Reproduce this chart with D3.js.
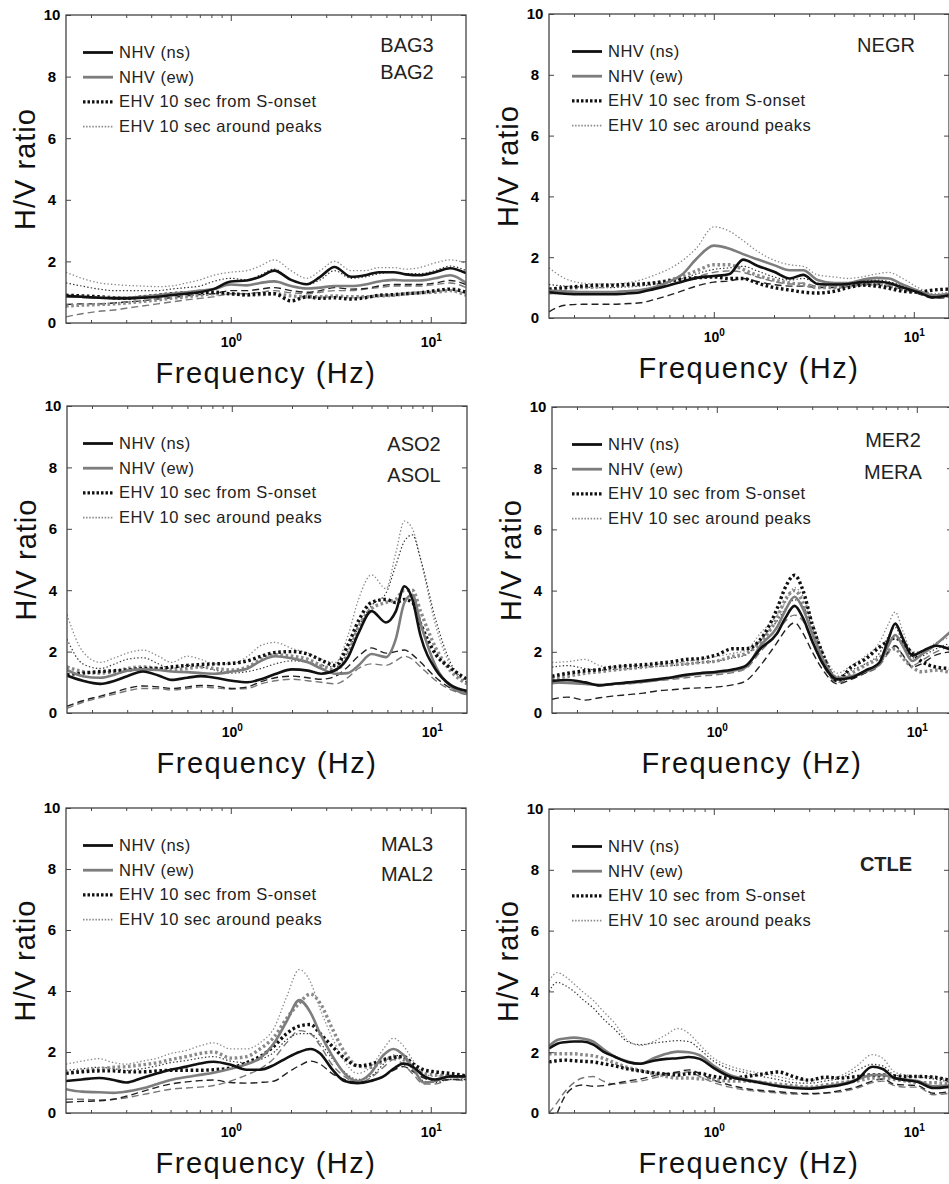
<!DOCTYPE html>
<html>
<head>
<meta charset="utf-8">
<script src="https://cdn.jsdelivr.net/npm/d3@7"></script>
<style>
  body { margin: 0; background: #fff; }
  svg { display: block; font-family: "Liberation Sans", Arial, Helvetica, sans-serif; }
</style>
</head>
<body>
<svg width="949" height="1184"></svg>
<script>
// ---- data ----
// legend / tick text
const legendLabels = ["NHV (ns)", "NHV (ew)", "EHV 10 sec from S-onset", "EHV 10 sec around peaks"];
const yTicks = [0, 2, 4, 6, 8, 10];
const xMajor = [1, 10];
const xMajorExp = ["0", "1"];
const xMinor = [0.2, 0.3, 0.4, 0.5, 0.6, 0.7, 0.8, 0.9, 2, 3, 4, 5, 6, 7, 8, 9];

// BAG3 / BAG2
const bagFreq = [0.15,0.18,0.22,0.26,0.3,0.36,0.43,0.5,0.6,0.7,0.82,1.0,1.2,1.4,1.65,2.0,2.4,2.8,3.3,4.0,4.7,5.5,6.5,7.5,8.8,10.5,12.5,15];
const bagNhvNs = [0.88,0.85,0.82,0.8,0.8,0.82,0.85,0.9,0.95,1.0,1.1,1.35,1.38,1.5,1.7,1.4,1.26,1.5,1.82,1.5,1.55,1.65,1.65,1.58,1.55,1.65,1.78,1.62];
const bagNhvEw = [0.85,0.85,0.82,0.82,0.82,0.85,0.9,0.95,1.0,1.05,1.1,1.25,1.22,1.3,1.35,1.2,1.12,1.15,1.2,1.2,1.25,1.35,1.4,1.38,1.38,1.45,1.55,1.3];
const bagOnsetB = [0.9,0.88,0.85,0.82,0.8,0.85,0.9,0.95,0.98,1.0,1.0,0.95,0.92,0.95,0.95,0.72,0.85,0.8,0.82,0.78,0.82,0.9,0.92,0.95,0.98,1.05,1.1,1.0];
const bagOnsetG = [0.55,0.58,0.6,0.62,0.65,0.7,0.75,0.8,0.85,0.9,0.95,0.95,0.9,0.92,0.95,0.88,0.85,0.85,0.88,0.85,0.85,0.88,0.9,0.95,0.98,1.0,1.05,0.9];
const bagPeaksB = [1.3,1.2,1.1,1.05,1.05,1.05,1.05,1.1,1.15,1.2,1.35,1.45,1.4,1.55,1.75,1.4,1.25,1.4,1.7,1.45,1.5,1.6,1.65,1.6,1.6,1.7,1.85,1.7];
const bagPeaksG = [1.65,1.45,1.3,1.25,1.22,1.2,1.18,1.2,1.3,1.4,1.55,1.65,1.7,1.85,2.05,1.7,1.45,1.7,2.0,1.7,1.7,1.8,1.8,1.75,1.8,1.95,2.05,1.95];
const bagDashB = [0.6,0.62,0.62,0.65,0.68,0.72,0.78,0.82,0.88,0.92,0.95,1.05,1.05,1.1,1.15,1.05,1.0,1.05,1.15,1.1,1.12,1.2,1.25,1.25,1.25,1.3,1.38,1.25];
const bagDashG = [0.2,0.3,0.38,0.42,0.48,0.55,0.62,0.68,0.75,0.8,0.85,0.95,0.95,1.0,1.05,0.98,0.95,1.0,1.05,1.05,1.1,1.15,1.2,1.2,1.2,1.25,1.3,1.15];

// NEGR
const negFreq = [0.15,0.18,0.22,0.26,0.3,0.36,0.43,0.5,0.6,0.7,0.82,1.0,1.2,1.4,1.65,2.0,2.4,2.8,3.3,4.0,4.7,5.5,6.5,7.5,8.8,10.5,12.5,15];
const negNhvNs = [0.85,0.8,0.78,0.78,0.78,0.8,0.85,0.95,1.08,1.2,1.32,1.38,1.45,1.92,1.72,1.52,1.3,1.42,1.12,1.1,1.12,1.18,1.2,1.15,1.0,0.85,0.68,0.75];
const negNhvEw = [0.9,0.88,0.85,0.85,0.85,0.88,0.92,1.0,1.2,1.45,1.95,2.38,2.28,2.1,1.93,1.74,1.57,1.57,1.25,1.15,1.15,1.25,1.32,1.3,1.1,0.9,0.75,0.8];
const negOnsetB = [0.95,1.0,1.05,1.08,1.08,1.1,1.12,1.15,1.22,1.28,1.32,1.35,1.3,1.3,1.15,1.0,0.92,0.85,0.82,0.88,1.0,1.08,1.05,0.98,0.88,0.85,0.92,0.95];
const negOnsetG = [0.95,0.98,1.0,1.02,1.05,1.08,1.1,1.15,1.25,1.38,1.55,1.75,1.75,1.6,1.4,1.25,1.15,1.1,1.0,1.0,1.05,1.1,1.12,1.05,0.95,0.85,0.7,0.72];
const negPeaksB = [1.1,1.05,1.02,1.0,1.0,1.02,1.05,1.1,1.2,1.3,1.45,1.6,1.65,1.7,1.55,1.35,1.25,1.3,1.15,1.1,1.12,1.2,1.25,1.2,1.05,0.85,0.7,0.75];
const negPeaksG = [1.65,1.3,1.15,1.12,1.12,1.15,1.25,1.4,1.62,1.9,2.3,3.0,2.85,2.55,2.2,1.9,1.75,1.7,1.42,1.35,1.3,1.35,1.45,1.5,1.3,1.0,0.8,0.85];
const negDashB = [0.2,0.42,0.45,0.45,0.45,0.47,0.5,0.6,0.75,0.9,1.05,1.18,1.22,1.3,1.2,1.1,1.05,1.05,1.0,1.0,1.05,1.1,1.12,1.05,0.95,0.8,0.65,0.68];
const negDashG = [0.8,0.82,0.85,0.85,0.85,0.88,0.92,1.0,1.1,1.2,1.35,1.5,1.55,1.5,1.35,1.2,1.12,1.15,1.05,1.05,1.08,1.12,1.15,1.1,1.0,0.85,0.7,0.72];

// ASO2 / ASOL
const asoFreq = [0.15,0.18,0.22,0.26,0.3,0.36,0.43,0.5,0.6,0.7,0.82,1.0,1.2,1.4,1.65,2.0,2.4,2.8,3.3,3.8,4.3,5.0,5.9,6.6,7.3,8.0,8.8,10.5,12.5,15];
const asoNhvNs = [1.22,1.05,0.95,1.05,1.2,1.35,1.22,1.08,1.15,1.2,1.15,1.05,1.0,1.1,1.27,1.42,1.38,1.28,1.4,1.8,2.6,3.32,2.95,3.3,4.13,3.7,2.5,1.4,0.9,0.72];
const asoNhvEw = [1.4,1.2,1.15,1.25,1.38,1.42,1.4,1.35,1.33,1.3,1.28,1.35,1.45,1.7,1.85,1.78,1.65,1.45,1.28,1.3,1.55,1.92,1.82,2.4,3.6,3.85,2.9,1.5,0.85,0.62];
const asoOnsetB = [1.25,1.3,1.35,1.38,1.4,1.45,1.45,1.5,1.55,1.58,1.6,1.62,1.7,1.85,1.97,2.0,1.92,1.72,1.55,2.2,3.0,3.6,3.7,3.6,3.7,3.6,2.9,1.9,1.45,1.1];
const asoOnsetG = [1.5,1.35,1.3,1.35,1.45,1.5,1.45,1.4,1.45,1.5,1.45,1.4,1.5,1.75,1.9,1.85,1.75,1.55,1.4,1.9,2.8,3.4,3.6,3.7,4.0,4.0,3.3,2.1,1.35,0.95];
const asoPeaksB = [2.4,1.6,1.45,1.6,1.75,1.8,1.6,1.45,1.55,1.5,1.4,1.3,1.35,1.45,1.6,1.7,1.65,1.55,1.5,2.0,2.8,3.5,3.9,4.8,5.6,5.8,5.0,3.0,1.6,1.0];
const asoPeaksG = [3.2,2.0,1.65,1.8,1.95,2.05,1.85,1.65,1.85,1.75,1.6,1.6,1.85,2.2,2.3,2.1,1.95,1.75,1.65,2.5,3.7,4.5,4.05,5.2,6.25,6.0,5.0,2.8,1.5,1.0];
const asoDashB = [0.22,0.4,0.55,0.68,0.8,0.88,0.85,0.8,0.85,0.9,0.88,0.8,0.85,1.02,1.15,1.2,1.15,1.1,1.2,1.5,1.85,2.12,1.95,2.0,2.05,1.9,1.65,1.15,0.8,0.65];
const asoDashG = [0.15,0.35,0.5,0.62,0.72,0.8,0.8,0.75,0.8,0.85,0.82,0.78,0.8,0.95,1.05,1.1,1.05,1.0,0.95,1.15,1.45,1.6,1.55,1.7,1.85,1.75,1.5,1.05,0.75,0.6];

// MER2 / MERA
const merFreq = [0.15,0.18,0.22,0.26,0.3,0.36,0.43,0.5,0.6,0.7,0.82,1.0,1.2,1.4,1.65,2.0,2.2,2.45,2.7,3.0,3.4,4.0,4.7,5.5,6.5,7.2,7.8,8.5,9.5,10.5,12.5,15];
const merNhvNs = [1.05,1.08,1.0,0.9,0.95,1.0,1.05,1.1,1.17,1.25,1.3,1.35,1.42,1.55,2.1,2.6,3.1,3.5,3.1,2.35,1.6,1.1,1.15,1.38,1.65,2.4,2.92,2.45,1.87,2.0,2.2,2.05];
const merNhvEw = [1.0,0.98,0.95,0.92,0.95,0.98,1.02,1.08,1.15,1.22,1.28,1.32,1.38,1.5,2.2,2.8,3.35,3.8,3.4,2.6,1.75,1.15,1.2,1.35,1.6,2.2,2.55,2.2,1.7,1.9,2.25,2.7];
const merOnsetB = [1.2,1.3,1.38,1.42,1.5,1.55,1.58,1.62,1.68,1.75,1.78,1.9,2.1,2.1,2.4,3.4,4.1,4.5,4.0,2.9,1.9,1.05,1.5,1.75,2.15,2.35,2.45,2.3,1.95,1.7,1.5,1.45];
const merOnsetG = [1.1,1.2,1.3,1.35,1.4,1.45,1.5,1.55,1.58,1.6,1.65,1.7,1.85,1.95,2.3,3.1,3.7,4.0,3.6,2.7,1.7,1.1,1.3,1.55,1.8,2.05,2.1,1.8,1.5,1.35,1.4,1.3];
const merPeaksB = [1.5,1.55,1.45,1.4,1.42,1.45,1.5,1.52,1.55,1.6,1.65,1.7,1.8,1.9,2.4,3.0,3.4,3.7,3.5,2.8,1.9,1.2,1.4,1.6,1.95,2.5,2.8,2.3,1.8,1.85,2.1,2.3];
const merPeaksG = [1.65,1.68,1.75,1.55,1.5,1.55,1.55,1.6,1.62,1.68,1.75,1.85,1.95,2.05,2.6,3.2,3.6,4.1,3.8,3.0,2.0,1.3,1.55,1.85,2.3,2.9,3.3,2.7,2.0,2.0,2.3,2.5];
const merDashB = [0.45,0.52,0.42,0.5,0.55,0.6,0.65,0.72,0.76,0.8,0.82,0.85,0.92,1.05,1.55,2.3,2.7,2.95,2.6,2.0,1.4,0.95,1.1,1.3,1.6,2.0,2.2,1.9,1.5,1.6,1.9,2.0];
const merDashG = [0.95,1.0,0.95,0.9,0.92,0.95,1.0,1.05,1.1,1.15,1.2,1.25,1.32,1.45,2.0,2.6,3.0,3.2,3.0,2.3,1.55,1.0,1.15,1.3,1.55,1.95,2.2,1.9,1.55,1.7,2.0,2.2];

// MAL3 / MAL2
const malFreq = [0.15,0.18,0.22,0.26,0.3,0.36,0.43,0.5,0.6,0.7,0.82,1.0,1.2,1.4,1.65,1.9,2.2,2.5,2.8,3.2,3.7,4.3,5.0,5.8,6.5,7.3,8.2,9.2,10.5,12.5,15];
const malNhvNs = [1.05,1.1,1.15,1.08,1.0,1.15,1.3,1.42,1.52,1.62,1.68,1.58,1.42,1.42,1.58,1.8,2.0,2.1,1.95,1.45,1.05,0.98,1.05,1.2,1.45,1.62,1.5,1.22,1.1,1.2,1.2];
const malNhvEw = [0.78,0.7,0.68,0.66,0.7,0.8,0.95,1.08,1.18,1.25,1.32,1.45,1.6,1.8,2.3,3.0,3.7,3.3,2.6,1.9,1.3,1.05,1.3,1.9,2.1,1.9,1.45,1.0,1.05,1.2,1.2];
const malOnsetB = [1.3,1.35,1.38,1.38,1.35,1.35,1.38,1.4,1.4,1.4,1.42,1.48,1.65,1.85,2.2,2.6,2.85,2.9,2.6,2.2,1.8,1.55,1.6,1.75,1.82,1.85,1.6,1.42,1.35,1.3,1.22];
const malOnsetG = [1.3,1.38,1.45,1.5,1.52,1.58,1.65,1.75,1.85,1.95,2.0,1.8,1.85,2.1,2.5,3.1,3.6,3.9,3.6,2.8,2.0,1.55,1.5,1.7,1.85,1.75,1.5,1.3,1.25,1.2,1.15];
const malPeaksB = [1.4,1.45,1.5,1.45,1.4,1.45,1.55,1.65,1.72,1.8,1.85,1.7,1.65,1.75,2.0,2.4,2.6,2.6,2.3,1.8,1.35,1.1,1.2,1.6,1.9,1.8,1.4,1.05,1.0,1.1,1.1];
const malPeaksG = [1.6,1.7,1.78,1.65,1.6,1.7,1.8,1.95,2.05,2.2,2.3,2.1,2.1,2.3,2.8,3.8,4.7,4.3,3.4,2.5,1.7,1.3,1.5,2.1,2.45,2.2,1.7,1.3,1.2,1.25,1.2];
const malDashB = [0.35,0.38,0.4,0.45,0.55,0.7,0.85,0.95,1.02,1.06,1.08,1.0,0.98,1.0,1.05,1.3,1.55,1.7,1.6,1.3,1.1,1.02,1.05,1.2,1.4,1.52,1.35,1.15,1.05,1.1,1.1];
const malDashG = [0.45,0.45,0.43,0.45,0.5,0.6,0.7,0.78,0.82,0.85,0.9,1.05,1.25,1.45,1.8,2.3,2.7,2.6,2.2,1.6,1.2,1.0,1.15,1.5,1.75,1.6,1.25,0.95,0.95,1.1,1.05];

// CTLE
const ctlFreq = [0.15,0.165,0.18,0.2,0.22,0.25,0.28,0.32,0.37,0.43,0.5,0.58,0.66,0.75,0.85,1.0,1.2,1.45,1.75,2.1,2.5,3.0,3.6,4.3,5.2,6.2,7.0,8.0,9.2,10.5,12.5,15];
const ctlNhvNs = [2.12,2.28,2.33,2.35,2.35,2.25,2.02,1.85,1.68,1.62,1.72,1.78,1.8,1.84,1.78,1.48,1.2,1.08,0.98,0.88,0.82,0.8,0.85,0.92,1.1,1.52,1.45,1.15,1.08,1.02,0.82,0.86];
const ctlNhvEw = [2.2,2.4,2.45,2.48,2.45,2.35,2.1,1.85,1.7,1.62,1.8,1.95,2.02,2.0,1.9,1.55,1.25,1.1,1.0,0.9,0.85,0.82,0.88,0.95,1.1,1.25,1.25,1.15,1.1,1.05,0.88,0.9];
const ctlOnsetB = [1.68,1.72,1.74,1.72,1.7,1.68,1.62,1.55,1.45,1.38,1.32,1.28,1.25,1.3,1.3,1.2,1.15,1.2,1.28,1.35,1.2,1.08,1.18,1.15,1.2,1.25,1.25,1.22,1.2,1.2,1.18,1.08];
const ctlOnsetG = [1.95,1.95,1.95,1.95,1.92,1.88,1.8,1.65,1.5,1.4,1.3,1.2,1.15,1.15,1.12,1.1,1.05,1.05,1.0,0.95,0.9,0.85,0.92,1.0,1.05,1.15,1.15,1.1,1.05,1.0,1.0,0.95];
const ctlPeaksB = [4.0,4.3,4.2,4.0,3.75,3.45,3.1,2.75,2.35,2.25,2.3,2.35,2.38,2.35,2.1,1.7,1.45,1.32,1.2,1.1,1.0,0.98,1.05,1.15,1.4,1.6,1.55,1.25,1.2,1.18,1.12,1.02];
const ctlPeaksG = [4.35,4.62,4.5,4.25,4.0,3.7,3.35,2.95,2.4,2.22,2.35,2.58,2.78,2.62,2.25,1.8,1.55,1.4,1.3,1.2,1.1,1.08,1.12,1.22,1.55,1.92,1.8,1.35,1.25,1.22,1.18,1.08];
const ctlDashB = [null,0.0,0.55,0.85,0.92,0.88,0.9,0.97,1.05,1.12,1.22,1.3,1.35,1.42,1.3,1.08,0.92,0.8,0.74,0.7,0.66,0.64,0.66,0.74,0.86,1.05,1.12,0.95,0.92,0.9,0.65,0.7];
const ctlDashG = [0.0,0.35,0.7,1.0,1.15,1.2,1.05,0.95,1.0,1.05,1.15,1.25,1.32,1.35,1.2,1.0,0.85,0.75,0.7,0.66,0.62,0.62,0.65,0.7,0.82,1.0,1.05,0.9,0.85,0.85,0.6,0.65];

// ---- panels ----
const panels = [
  { freq: bagFreq, tags: ["BAG3", "BAG2"], bold: false,
    s: [bagNhvNs, bagNhvEw, bagOnsetB, bagOnsetG, bagPeaksB, bagPeaksG, bagDashB, bagDashG] },
  { freq: negFreq, tags: ["NEGR"], bold: false,
    s: [negNhvNs, negNhvEw, negOnsetB, negOnsetG, negPeaksB, negPeaksG, negDashB, negDashG] },
  { freq: asoFreq, tags: ["ASO2", "ASOL"], bold: false,
    s: [asoNhvNs, asoNhvEw, asoOnsetB, asoOnsetG, asoPeaksB, asoPeaksG, asoDashB, asoDashG] },
  { freq: merFreq, tags: ["MER2", "MERA"], bold: false,
    s: [merNhvNs, merNhvEw, merOnsetB, merOnsetG, merPeaksB, merPeaksG, merDashB, merDashG] },
  { freq: malFreq, tags: ["MAL3", "MAL2"], bold: false,
    s: [malNhvNs, malNhvEw, malOnsetB, malOnsetG, malPeaksB, malPeaksG, malDashB, malDashG] },
  { freq: ctlFreq, tags: ["CTLE"], bold: true,
    s: [ctlNhvNs, ctlNhvEw, ctlOnsetB, ctlOnsetG, ctlPeaksB, ctlPeaksG, ctlDashB, ctlDashG] }
];

// where each panel sits on the page
const layout = [
  { left: 66,  top: 15,  bottom: 323,  legX: 17, tagX: 341, tagY: [37, 64] },
  { left: 549, top: 14,  bottom: 318,  legX: 23, tagX: 337, tagY: [38] },
  { left: 67,  top: 406, bottom: 713,  legX: 16, tagX: 347, tagY: [45, 76] },
  { left: 552, top: 407, bottom: 713,  legX: 20, tagX: 341, tagY: [40, 72] },
  { left: 66,  top: 808, bottom: 1113, legX: 17, tagX: 341, tagY: [43, 73] },
  { left: 549, top: 809, bottom: 1113, legX: 23, tagX: 337, tagY: [62] }
];
const W = 400;

// line looks, same order as panel series
const styles = [
  { color: "#111", width: 2.6, dash: null },        // NHV ns
  { color: "#7d7d7d", width: 2.6, dash: null },     // NHV ew
  { color: "#111", width: 3.4, dash: "2.6,2.6" },   // S-onset (black)
  { color: "#8a8a8a", width: 3.4, dash: "2.6,2.6" },// S-onset (gray)
  { color: "#333", width: 1.2, dash: "1.4,2.2" },   // around peaks (black)
  { color: "#8a8a8a", width: 1.3, dash: "1.4,2.2" },// around peaks (gray)
  { color: "#222", width: 1.4, dash: "7,4" },       // dashed black
  { color: "#777", width: 1.4, dash: "7,4" }        // dashed gray
];
const drawOrder = [7, 6, 5, 4, 3, 2, 1, 0];
const legendStyles = [
  { color: "#111", width: 2.8, dash: null },
  { color: "#7d7d7d", width: 2.8, dash: null },
  { color: "#111", width: 3.2, dash: "2.5,2" },
  { color: "#8a8a8a", width: 1.6, dash: "1.5,1.6" }
];

const svg = d3.select("svg");
const axisColor = "#444";

panels.forEach((p, i) => {
  const L = layout[i];
  const x = d3.scaleLog().domain([0.15, 15]).range([L.left, L.left + W]);
  const y = d3.scaleLinear().domain([0, 10]).range([L.bottom, L.top]);
  const g = svg.append("g");

  g.append("clipPath").attr("id", "clip" + i)
    .append("rect").attr("x", L.left).attr("y", L.top)
    .attr("width", W).attr("height", L.bottom - L.top);

  // curves
  const plot = g.append("g").attr("clip-path", `url(#clip${i})`);
  drawOrder.forEach(k => {
    const st = styles[k];
    const pts = p.freq.map((f, j) => ({ f, v: p.s[k][j] }));
    const line = d3.line()
      .defined(d => d.v != null)
      .x(d => x(d.f)).y(d => y(d.v))
      .curve(d3.curveMonotoneX);
    plot.append("path").datum(pts)
      .attr("fill", "none")
      .attr("stroke", st.color)
      .attr("stroke-width", st.width)
      .attr("stroke-dasharray", st.dash)
      .attr("stroke-linejoin", "round")
      .attr("d", line);
  });

  // frame
  g.append("rect").attr("x", L.left).attr("y", L.top)
    .attr("width", W).attr("height", L.bottom - L.top)
    .attr("fill", "none").attr("stroke", axisColor).attr("stroke-width", 1.3);

  const clean = sel => {
    sel.select(".domain").remove();
    sel.selectAll(".tick line").attr("stroke", axisColor).attr("stroke-width", 1);
  };

  // inward ticks, bottom & top
  g.append("g").attr("transform", `translate(0,${L.bottom})`)
    .call(d3.axisBottom(x).tickValues(xMinor).tickSize(-3).tickFormat(""))
    .call(clean);
  g.append("g").attr("transform", `translate(0,${L.top})`)
    .call(d3.axisTop(x).tickValues(xMinor).tickSize(-3).tickFormat(""))
    .call(clean);
  g.append("g").attr("transform", `translate(0,${L.top})`)
    .call(d3.axisTop(x).tickValues(xMajor).tickSize(-6).tickFormat(""))
    .call(clean);
  const xb = g.append("g").attr("transform", `translate(0,${L.bottom})`)
    .call(d3.axisBottom(x).tickValues(xMajor).tickSize(-6).tickFormat(""))
    .call(clean);
  xb.selectAll(".tick").each(function (d, j) {
    const t = d3.select(this).append("text")
      .attr("y", 24).attr("fill", "#000")
      .attr("text-anchor", "middle")
      .style("font-size", "14px").style("font-weight", "bold");
    t.append("tspan").text("10");
    t.append("tspan").attr("dy", -6).style("font-size", "10px").text(xMajorExp[j]);
  });

  // left & right
  const yl = g.append("g").attr("transform", `translate(${L.left},0)`)
    .call(d3.axisLeft(y).tickValues(yTicks).tickSize(-5).tickFormat(d3.format("d")))
    .call(clean);
  yl.selectAll(".tick text")
    .attr("x", -14).attr("text-anchor", "middle").attr("fill", "#000")
    .style("font-size", "15px").style("font-weight", "bold")
    .style("font-family", "'Liberation Sans', Arial, sans-serif");
  g.append("g").attr("transform", `translate(${L.left + W},0)`)
    .call(d3.axisRight(y).tickValues(yTicks).tickSize(-5).tickFormat(""))
    .call(clean);

  // axis titles
  g.append("text")
    .attr("x", L.left + W / 2).attr("y", L.bottom + 60)
    .attr("text-anchor", "middle").attr("fill", "#111")
    .style("font-size", "29px").style("letter-spacing", "1.5px")
    .text("Frequency (Hz)");
  g.append("text")
    .attr("transform", `translate(${L.left - 31},${(L.top + L.bottom) / 2}) rotate(-90)`)
    .attr("text-anchor", "middle").attr("fill", "#111")
    .style("font-size", "29px").style("letter-spacing", "1px")
    .text("H/V ratio");

  // legend
  legendLabels.forEach((lab, j) => {
    const ly = L.top + 37.5 + j * 24.7;
    const st = legendStyles[j];
    g.append("line")
      .attr("x1", L.left + L.legX).attr("x2", L.left + L.legX + 30)
      .attr("y1", ly).attr("y2", ly)
      .attr("stroke", st.color).attr("stroke-width", st.width)
      .attr("stroke-dasharray", st.dash);
    g.append("text")
      .attr("x", L.left + L.legX + 36).attr("y", ly + 5.5)
      .attr("fill", "#222").style("font-size", "16.5px")
      .style("letter-spacing", "0.5px")
      .text(lab);
  });

  // station names
  p.tags.forEach((t, j) => {
    g.append("text")
      .attr("x", L.left + L.tagX).attr("y", L.top + L.tagY[j])
      .attr("text-anchor", "middle").attr("fill", "#222")
      .style("font-size", "20px")
      .style("font-weight", p.bold ? "bold" : "normal")
      .text(t);
  });
});
</script>
</body>
</html>
